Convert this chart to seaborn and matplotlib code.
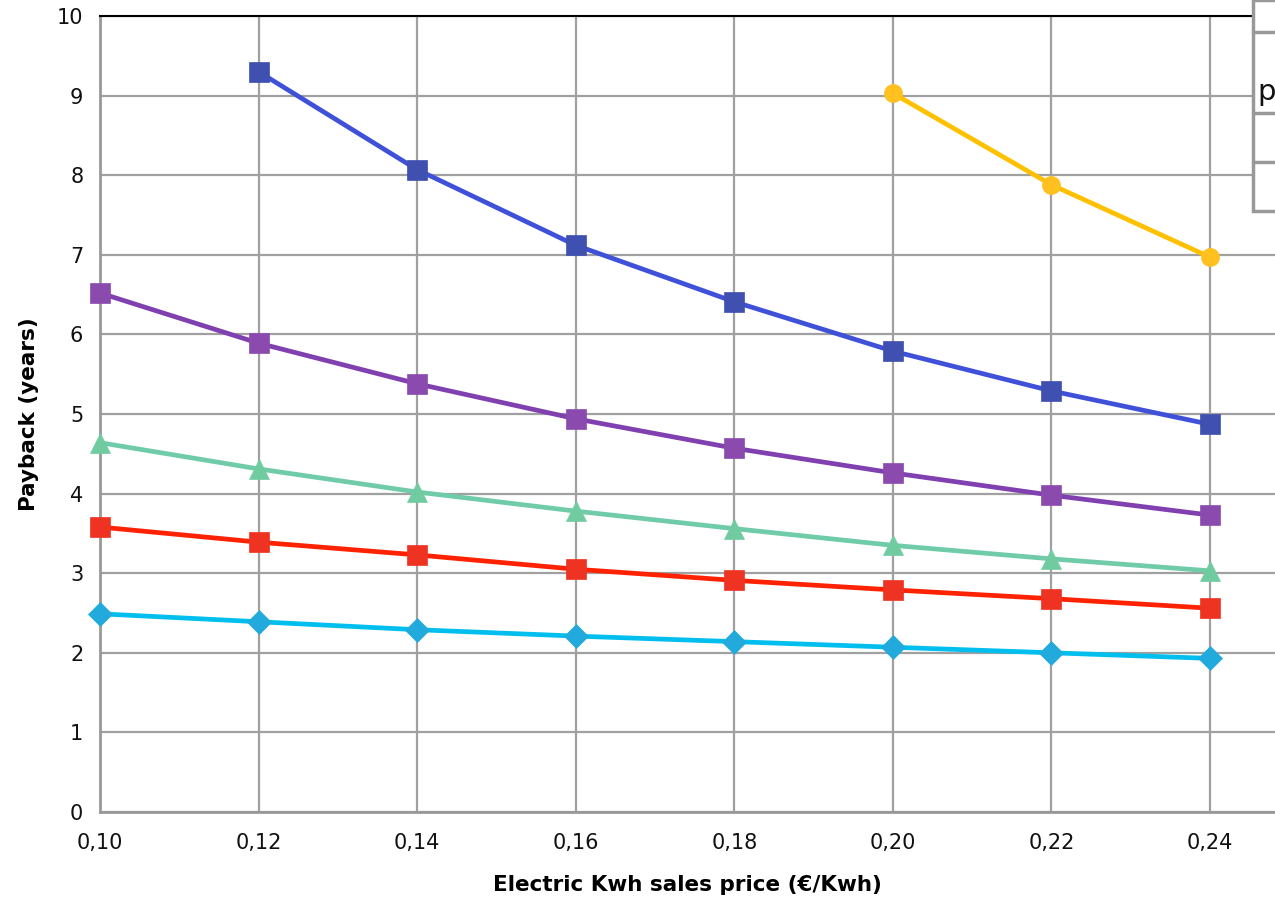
import numpy as np
import pandas as pd
import matplotlib.pyplot as plt
import seaborn as sns
from matplotlib.patches import Rectangle

# price values (x axis)
price = [0.10, 0.12, 0.14, 0.16, 0.18, 0.20, 0.22, 0.24]

# payback series (years)
blue_price = [0.12, 0.14, 0.16, 0.18, 0.20, 0.22, 0.24]
blue_vals = [9.30, 8.07, 7.12, 6.41, 5.79, 5.29, 4.87]
yellow_price = [0.20, 0.22, 0.24]
yellow_vals = [9.03, 7.88, 6.97]
purple_vals = [6.52, 5.89, 5.38, 4.94, 4.57, 4.26, 3.98, 3.73]
green_vals = [4.64, 4.31, 4.02, 3.78, 3.56, 3.35, 3.18, 3.03]
red_vals = [3.58, 3.39, 3.23, 3.05, 2.91, 2.79, 2.68, 2.56]
cyan_vals = [2.49, 2.39, 2.29, 2.21, 2.14, 2.07, 2.00, 1.93]

x_ticks = [0.10, 0.12, 0.14, 0.16, 0.18, 0.20, 0.22, 0.24]
x_labels = ['0,10', '0,12', '0,14', '0,16', '0,18', '0,20', '0,22', '0,24']

sns.set_style('white')
plt.rcParams['font.family'] = ['DejaVu Sans']

fig = plt.figure(figsize=(12.75, 9.01), dpi=100)
ax = fig.add_axes([100 / 1275, 1 - 812 / 901, 1 - 100 / 1275, (812 - 16) / 901])

series = [
    (price, cyan_vals, '#00BFEF', '#22AADD', 'D', 12),
    (price, red_vals, '#FF2200', '#EE3322', 's', 14),
    (price, green_vals, '#70CCA8', '#70CCA0', '^', 15),
    (price, purple_vals, '#8040B0', '#8B4BAE', 's', 14),
    (blue_price, blue_vals, '#3F51D8', '#4050B0', 's', 14),
    (yellow_price, yellow_vals, '#FFC000', '#FFC020', 'o', 13),
]
for xs, ys, lc, mc, mk, ms in series:
    df = pd.DataFrame({'price': xs, 'payback': ys})
    sns.lineplot(data=df, x='price', y='payback', ax=ax, color=lc, linewidth=3.4,
                 marker=mk, markersize=ms, markerfacecolor=mc,
                 markeredgecolor=mc, markeredgewidth=0.5, zorder=3, clip_on=False)

ax.set_xlim(0.10, 0.2482)
ax.set_ylim(0, 10)
ax.set_xticks(x_ticks)
ax.set_xticklabels(x_labels)
ax.set_yticks(range(0, 11))
ax.grid(True, color='#A0A0A0', linewidth=1.6)
ax.set_axisbelow(True)

for side in ['left', 'bottom']:
    ax.spines[side].set_color('#999999')
    ax.spines[side].set_linewidth(2)
ax.spines['top'].set_color('black')
ax.spines['top'].set_linewidth(1.5)
ax.spines['right'].set_visible(False)

ax.tick_params(axis='both', labelsize=15, colors='#999999', labelcolor='#111111',
               length=6, width=1.5, direction='out')
ax.tick_params(axis='x', pad=9)
ax.tick_params(axis='y', pad=6)
ax.set_xlabel('Electric Kwh sales price (€/Kwh)', fontsize=15.5, fontweight='bold',
              color='black', labelpad=16)
ax.set_ylabel('Payback (years)', fontsize=15.5, fontweight='bold', color='black', labelpad=13)

# cropped legend box at the top right
W, H = 1275, 901
fig.patches.append(Rectangle((1253 / W, 1 - 211 / H), 0.1, 211 / H, transform=fig.transFigure,
                             facecolor='white', edgecolor='#999999', linewidth=2.5, zorder=10))
for yy in [32, 113, 162]:
    fig.add_artist(plt.Line2D([1253 / W, 1.0], [1 - yy / H, 1 - yy / H], transform=fig.transFigure,
                              color='#999999', linewidth=2.5, zorder=11))
fig.text(1257 / W, 1 - 92 / H, 'p', fontsize=21, va='center', ha='left', color='#111111', zorder=12)

fig.savefig('out.png', dpi=100)
